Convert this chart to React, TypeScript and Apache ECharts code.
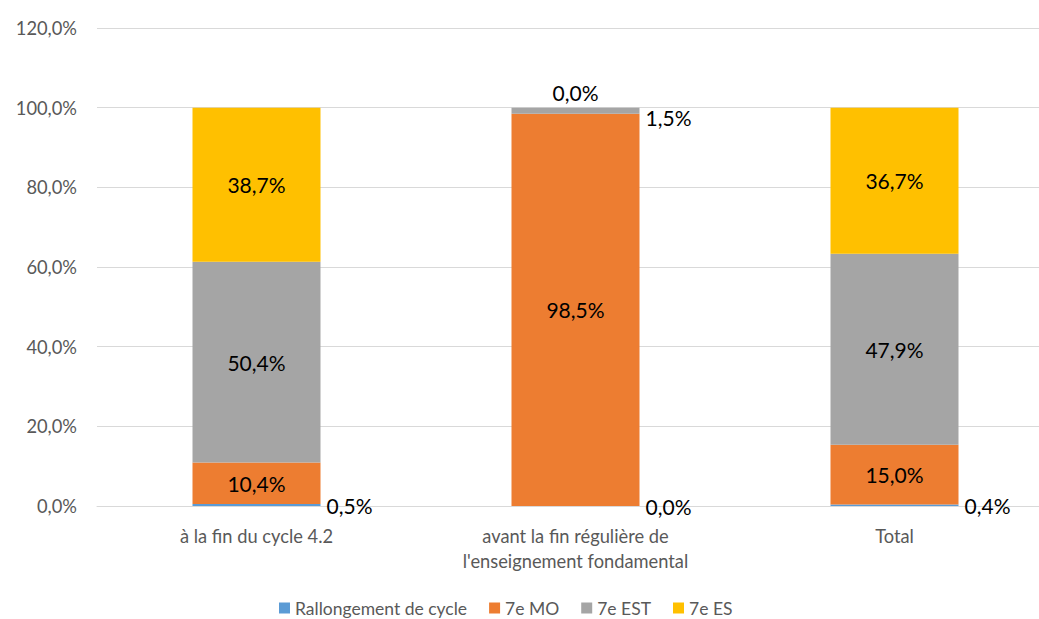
import React, { useEffect, useRef } from "react";
import * as echarts from "echarts";

const categories = [
  "à la fin du cycle 4.2",
  "avant la fin régulière de\nl'enseignement fondamental",
  "Total",
];
const seriesNames = ["Rallongement de cycle", "7e MO", "7e EST", "7e ES"];
const rallongement = [0.5, 0.0, 0.4];
const mo = [10.4, 98.5, 15.0];
const est = [50.4, 1.5, 47.9];
const es = [38.7, 0.0, 36.7];
const yTicks = { min: 0, max: 120, interval: 20 };
const colors = ["#5B9BD5", "#ED7D31", "#A5A5A5", "#FFC000"];

const FONT = "Lato, 'Open Sans', sans-serif";
const fmt = (v: number) => v.toFixed(1).replace(".", ",") + "%";

export default function App() {
  const ref = useRef<HTMLDivElement>(null);
  useEffect(() => {
    if (!ref.current) return;
    const chart = echarts.init(ref.current, undefined, { renderer: "svg" });
    const labelBase = {
      show: true,
      color: "#000000",
      fontSize: 21,
      fontFamily: FONT,
      formatter: (p: any) => fmt(p.value as number),
    };
    const estData = est.map((v, i) =>
      i === 1
        ? { value: v, label: { position: "right", distance: 6, offset: [0, 7] } }
        : v
    );
    const esData = es.map((v, i) =>
      i === 1 ? { value: v, label: { position: "top", distance: 5 } } : v
    );
    chart.setOption({
      animation: false,
      textStyle: { fontFamily: FONT },
      grid: { left: 97, right: 6, top: 28, bottom: 113, containLabel: false },
      legend: {
        data: seriesNames,
        left: 274,
        top: 594,
        itemWidth: 11,
        itemHeight: 11,
        itemGap: 22,
        icon: "rect",
        textStyle: { color: "#595959", fontSize: 17.5, fontFamily: FONT },
      },
      xAxis: {
        type: "category",
        data: categories,
        axisLine: { lineStyle: { color: "#D9D9D9", width: 1 } },
        axisTick: { show: false },
        axisLabel: {
          color: "#595959",
          fontSize: 18.3,
          fontFamily: FONT,
          margin: 17,
          lineHeight: 25,
          interval: 0,
        },
      },
      yAxis: {
        type: "value",
        min: yTicks.min,
        max: yTicks.max,
        interval: yTicks.interval,
        axisLine: { show: false },
        axisTick: { show: false },
        splitLine: { lineStyle: { color: "#D9D9D9", width: 1 } },
        axisLabel: {
          color: "#595959",
          fontSize: 18.3,
          fontFamily: FONT,
          margin: 20,
          formatter: (v: number) => fmt(v),
        },
      },
      series: [
        {
          name: seriesNames[0],
          type: "bar",
          stack: "total",
          barWidth: 128,
          data: rallongement,
          itemStyle: { color: colors[0] },
          label: { ...labelBase, position: "right", distance: 6 },
        },
        {
          name: seriesNames[1],
          type: "bar",
          stack: "total",
          barWidth: 128,
          data: mo,
          itemStyle: { color: colors[1] },
          label: { ...labelBase, position: "inside" },
        },
        {
          name: seriesNames[2],
          type: "bar",
          stack: "total",
          barWidth: 128,
          data: estData,
          itemStyle: { color: colors[2] },
          label: { ...labelBase, position: "inside" },
        },
        {
          name: seriesNames[3],
          type: "bar",
          stack: "total",
          barWidth: 128,
          data: esData,
          itemStyle: { color: colors[3] },
          label: { ...labelBase, position: "inside" },
        },
      ],
    });
    return () => chart.dispose();
  }, []);
  return (
    <div
      ref={ref}
      style={{ position: "fixed", left: 0, top: 0, width: 1060, height: 619, background: "#fff" }}
    />
  );
}
